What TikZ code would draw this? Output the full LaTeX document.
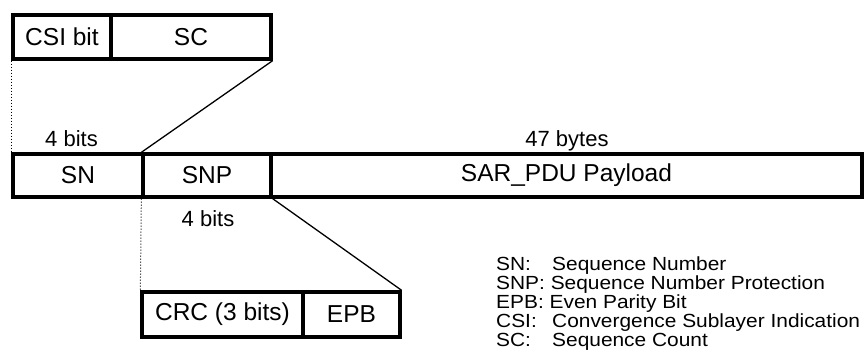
\documentclass[tikz,border=0pt]{standalone}
\usepackage{fontspec}
\setmainfont{Liberation Sans}
\newfontfamily\legendfont[FakeStretch=1.1]{Liberation Sans}
\newcommand{\legtag}[1]{\makebox[56pt][l]{#1}}
\begin{document}
\begin{tikzpicture}[x=1pt,y=-1pt,
  field/.style={draw,line width=3.3pt,rectangle,inner sep=0pt,font=\fontsize{24.5}{28}\selectfont},
  lbl/.style={inner sep=0pt,anchor=base,font=\fontsize{22}{26}\selectfont},
  legend/.style={inner sep=0pt,anchor=base west,font=\legendfont\fontsize{19}{22}\selectfont},
  guide/.style={line width=1pt,dotted},
  slant/.style={line width=1.3pt}]
\useasboundingbox (0,0) rectangle (866,350);
% top breakdown of SN
\node[field,minimum width=98pt,minimum height=44pt] (csi) at (62,37) {CSI bit};
\node[field,minimum width=160pt,minimum height=44pt] (sc) at (191,37) {SC};
% main SAR-PDU row
\node[field,minimum width=130pt,minimum height=43pt] (sn) at (78,175.5) {SN};
\node[field,minimum width=128pt,minimum height=43pt] (snp) at (207,175.5) {SNP};
\node[field,minimum width=591pt,minimum height=43pt] (pay) at (566.5,175.5) {SAR\_PDU Payload};
% bottom breakdown of SNP
\node[field,minimum width=161pt,minimum height=45pt] (crc) at (222.5,314.5) {CRC (3 bits)};
\node[field,minimum width=97pt,minimum height=45pt] (epb) at (351.5,314.5) {EPB};
% size labels
\node[lbl] (l1) at (71.5,146.5) {4 bits};
\node[lbl] (l2) at (567,146.5) {47 bytes};
\node[lbl] (l3) at (208,226.5) {4 bits};
% expansion guides
\draw[guide] (csi.south west) -- (sn.north west);
\draw[slant] (sc.south east) -- (snp.north west);
\draw[guide] (snp.south west) -- (crc.north west);
\draw[slant] (snp.south east) -- (epb.north east);
% legend
\node[legend] (k1) at (496,270) {\legtag{SN:}Sequence Number};
\node[legend] (k2) at (496,289) {SNP: Sequence Number Protection};
\node[legend] (k3) at (496,308) {EPB: Even Parity Bit};
\node[legend] (k4) at (496,327) {\legtag{CSI:}Convergence Sublayer Indication};
\node[legend] (k5) at (496,346) {\legtag{SC:}Sequence Count};
\end{tikzpicture}
\end{document}
